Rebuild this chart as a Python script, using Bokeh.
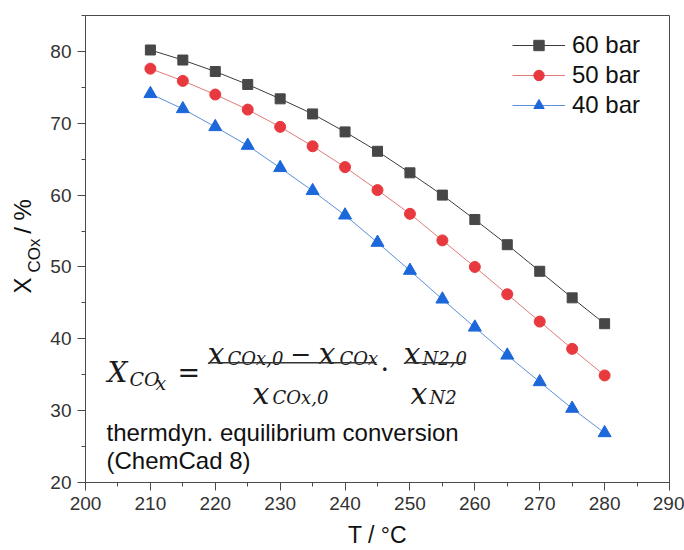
from bokeh.plotting import figure
from bokeh.models import Label, BoxAnnotation, Range1d, FixedTicker, LinearAxis
from bokeh.embed import file_html
from bokeh.resources import INLINE

# ---------------- data ----------------
T = [210, 215, 220, 225, 230, 235, 240, 245, 250, 255, 260, 265, 270, 275, 280]
x60 = [80.2, 78.8, 77.2, 75.4, 73.4, 71.3, 68.8, 66.1, 63.1, 60.0, 56.6, 53.1, 49.4, 45.7, 42.1]
x50 = [77.6, 75.9, 74.0, 71.9, 69.5, 66.8, 63.9, 60.7, 57.4, 53.7, 50.0, 46.2, 42.4, 38.6, 34.9]
x40 = [74.1, 72.0, 69.5, 66.9, 63.8, 60.6, 57.2, 53.4, 49.5, 45.5, 41.6, 37.7, 34.0, 30.3, 26.9]
series_labels = ["60 bar", "50 bar", "40 bar"]
x_ticks = [200, 210, 220, 230, 240, 250, 260, 270, 280, 290]
y_ticks = [20, 30, 40, 50, 60, 70, 80]

X0, X1 = 200, 290
Y0, Y1 = 20, 85

# ---------------- layout (canvas pixels) ----------------
W, H = 684, 550
FL, FR, FT, FB = 85, 669, 15, 482

def dx(px):
    return X0 + (px - FL) * (X1 - X0) / (FR - FL)

def dy(py):
    return Y0 + (FB - py) * (Y1 - Y0) / (FB - FT)

p = figure(width=W, height=H, x_range=Range1d(X0, X1), y_range=Range1d(Y0, Y1),
           output_backend="svg", toolbar_location=None,
           min_border_left=FL, min_border_right=W - FR,
           min_border_top=FT, min_border_bottom=H - FB)
p.background_fill_color = "white"
p.border_fill_color = "white"
p.outline_line_color = "#4a4a4a"
p.outline_line_width = 1
p.xgrid.visible = False
p.ygrid.visible = False

p.xaxis.ticker = FixedTicker(ticks=x_ticks, minor_ticks=[t + 5 for t in x_ticks[:-1]])
p.yaxis.ticker = FixedTicker(ticks=y_ticks, minor_ticks=[t + 5 for t in y_ticks])
for ax in (p.xaxis, p.yaxis):
    ax.axis_line_color = "#4a4a4a"
    ax.major_tick_line_color = "#4a4a4a"
    ax.minor_tick_line_color = "#4a4a4a"
    ax.major_tick_in = 0
    ax.major_tick_out = 8
    ax.minor_tick_in = 0
    ax.minor_tick_out = 4
    ax.major_label_text_font = "Liberation Sans"
    ax.major_label_text_font_size = "19px"
    ax.major_label_text_color = "#333333"
    ax.major_label_standoff = 6

p.xaxis.axis_label = "T / °C"
p.xaxis.axis_label_text_font = "Liberation Sans"
p.xaxis.axis_label_text_font_size = "23px"
p.xaxis.axis_label_text_font_style = "normal"
p.xaxis.axis_label_text_color = "#111111"
p.xaxis.axis_label_standoff = 9

# y-axis title: "X", subscript "COx", "/ %" as vertical labels of two bare axes
p.extra_y_ranges = {"ttl": Range1d(0, FB - FT)}
pos_x, pos_cox, pos_pct = FB - 285, FB - 255, FB - 216

def bare_axis(ticks, texts, size, standoff):
    a = LinearAxis(y_range_name="ttl", ticker=FixedTicker(ticks=ticks, minor_ticks=[]),
                   major_label_overrides=dict(zip(ticks, texts)),
                   major_label_orientation="vertical")
    a.axis_line_color = None
    a.major_tick_line_color = None
    a.minor_tick_line_color = None
    a.major_tick_in = 0
    a.major_tick_out = 0
    a.minor_tick_in = 0
    a.minor_tick_out = 0
    a.major_label_standoff = standoff
    a.major_label_text_font = "Liberation Sans"
    a.major_label_text_font_size = size
    a.major_label_text_color = "#111111"
    return a

p.add_layout(bare_axis([pos_cox], ["COx"], "17px", 4), "left")
p.add_layout(bare_axis([pos_x, pos_pct], ["X", "/ %"], "24px", -14), "left")

# ---------------- series ----------------
styles = [
    (x60, "square", "#474747", "#3c3c3c", 10),
    (x50, "circle", "#e8393f", "#e27a7a", 11),
    (x40, "triangle", "#1c67da", "#5b8fd8", 13),
]
for (ys, marker, mc, lc, sz), lab in zip(styles, series_labels):
    p.line(T, ys, line_color=lc, line_width=1, legend_label=lab)
    p.scatter(T, ys, marker=marker, size=sz, fill_color=mc, line_color=mc, legend_label=lab)

lg = p.legend[0]
lg.location = (507 - FL, FB - 124)
lg.margin = 0
lg.padding = 5
lg.spacing = 2
lg.glyph_width = 53
lg.glyph_height = 26
lg.label_height = 26
lg.label_standoff = 7
lg.label_text_font = "Liberation Sans"
lg.label_text_font_size = "24px"
lg.label_text_color = "#111111"
lg.border_line_alpha = 0
lg.background_fill_alpha = 0

# ---------------- formula & notes ----------------
def add_label(txt, px, py, size, font="Liberation Sans", style="normal",
              align="left", baseline="alphabetic", color="#111111"):
    p.add_layout(Label(x=dx(px), y=dy(py), text=txt, text_font=font,
                       text_font_size=size, text_font_style=style,
                       text_align=align, text_baseline=baseline, text_color=color))

SERIF = "DejaVu Serif"
formula = [
    ("X", 107, 372, "28px", "italic"),
    ("CO", 129, 378, "19px", "italic"),
    ("x", 155, 382, "19px", "italic"),
    ("=", 177, 372, "27px", "normal"),
    ("x", 207, 353, "30px", "italic"),
    ("COx,0", 227, 358, "18px", "italic"),
    ("\u2212", 290, 353, "25px", "normal"),
    ("x", 318, 353, "30px", "italic"),
    ("COx", 339, 358, "18px", "italic"),
    ("x", 252, 393, "30px", "italic"),
    ("COx,0", 272, 397, "18px", "italic"),
    ("\u00b7", 380, 369, "27px", "normal"),
    ("x", 403, 353, "30px", "italic"),
    ("N2,0", 422, 358, "18px", "italic"),
    ("x", 410, 393, "30px", "italic"),
    ("N2", 429, 397, "18px", "italic"),
]
for txt, px, py, size, style in formula:
    add_label(txt, px, py, size, font=SERIF, style=style, color="#1a1a1a")

for (a, b) in [(208, 376), (404, 465)]:
    p.add_layout(BoxAnnotation(left=dx(a), right=dx(b), top=dy(361.6), bottom=dy(362.9),
                               fill_color="#333333", fill_alpha=1.0, line_alpha=0))

add_label("thermdyn. equilibrium conversion", 106, 432, "24px")
add_label("(ChemCad 8)", 106, 460, "24px")

open("out.html", "w").write(file_html(p, INLINE))
